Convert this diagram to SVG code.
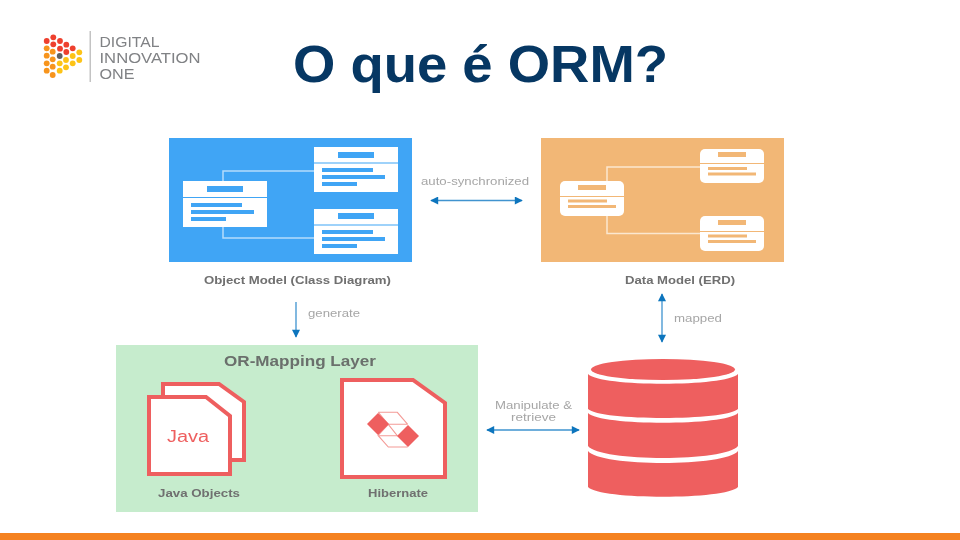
<svg xmlns="http://www.w3.org/2000/svg" width="960" height="540" viewBox="0 0 960 540">
<defs>
<filter id="soft" x="-5%" y="-5%" width="110%" height="110%"><feGaussianBlur stdDeviation="0.55"/></filter>
<marker id="ah" viewBox="0 0 10 10" refX="9" refY="5" markerWidth="9" markerHeight="8" markerUnits="userSpaceOnUse" orient="auto-start-reverse"><path d="M0 0L10 5L0 10z" fill="#0b74bd"/></marker>
</defs>
<style>
text{font-family:"Liberation Sans",Arial,sans-serif}
.lab{font-size:10.800px;font-weight:700;fill:#6f6f6f;text-anchor:middle}
.edge{font-size:10.400px;fill:#a6a6a6;text-anchor:middle}
.cls{fill:#fff}.bb{fill:#3fa5f5}.ob{fill:#f2b776}
.ln{fill:none;stroke-width:1.5}
.arr{stroke:#3f93cf;stroke-width:1.3;fill:none;marker-start:url(#ah);marker-end:url(#ah)}
.doc{fill:#fff;stroke:#ee5f5f;stroke-width:4}
.logo{font-size:13.900px;fill:#808285}
</style>
<rect width="960" height="540" fill="#fff"/>
<g id="logo" filter="url(#soft)">
<g fill="#ee3f2e"><circle cx="53.3" cy="37.3" r="2.9"/><circle cx="46.7" cy="41" r="2.9"/><circle cx="53.3" cy="44.3" r="2.9"/><circle cx="60" cy="41" r="2.9"/><circle cx="66.3" cy="44.7" r="2.9"/><circle cx="72.7" cy="48.3" r="2.9"/><circle cx="60" cy="48.7" r="2.9"/><circle cx="66.3" cy="52" r="2.9"/></g>
<g fill="#f7941d"><circle cx="46.7" cy="48.3" r="2.9"/><circle cx="46.7" cy="55.7" r="2.9"/><circle cx="46.7" cy="63.3" r="2.9"/><circle cx="46.7" cy="70.7" r="2.9"/><circle cx="52.7" cy="51.7" r="2.9"/><circle cx="52.7" cy="59.3" r="2.9"/><circle cx="52.7" cy="66.7" r="2.9"/><circle cx="52.7" cy="75" r="2.9"/></g>
<circle cx="59.7" cy="56" r="2.9" fill="#5f6062"/>
<g fill="#fdc316"><circle cx="79.3" cy="52.3" r="2.9"/><circle cx="79.3" cy="60" r="2.9"/><circle cx="72.7" cy="56" r="2.9"/><circle cx="72.7" cy="63.3" r="2.9"/><circle cx="66" cy="60" r="2.9"/><circle cx="66" cy="67.3" r="2.9"/><circle cx="59.7" cy="63.3" r="2.9"/><circle cx="59.7" cy="70.7" r="2.9"/></g>
<rect x="89.6" y="31" width="1.2" height="51" fill="#b5b5b5"/>
<text class="logo" x="99.500" y="47" textLength="60" lengthAdjust="spacingAndGlyphs">DIGITAL</text>
<text class="logo" x="99.500" y="63" textLength="101" lengthAdjust="spacingAndGlyphs">INNOVATION</text>
<text class="logo" x="99.500" y="79" textLength="35" lengthAdjust="spacingAndGlyphs">ONE</text>
</g>
<text id="title" x="293" y="82" textLength="375" lengthAdjust="spacingAndGlyphs" style="font-size:52px;font-weight:700" fill="#063763">O que é ORM?</text>
<g id="diagram" filter="url(#soft)">
<g id="object-model">
<rect x="169" y="138" width="243" height="124" class="bb"/>
<path d="M223 181V171H314M223 227V238H314" class="ln" stroke="#b5dbfb"/>
<g id="class-a"><rect x="183" y="181" width="84" height="46" class="cls"/><rect x="183" y="197" width="84" height="1" class="bb"/><rect x="207" y="186" width="36" height="6" class="bb"/><rect x="191" y="203" width="51" height="4" class="bb"/><rect x="191" y="210" width="63" height="4" class="bb"/><rect x="191" y="217" width="35" height="4" class="bb"/></g>
<g id="class-b"><rect x="314" y="147" width="84" height="45" class="cls"/><rect x="314" y="162.500" width="84" height="1" class="bb"/><rect x="338" y="152" width="36" height="6" class="bb"/><rect x="322" y="168" width="51" height="4" class="bb"/><rect x="322" y="175" width="63" height="4" class="bb"/><rect x="322" y="182" width="35" height="4" class="bb"/></g>
<g id="class-c"><rect x="314" y="209" width="84" height="45" class="cls"/><rect x="314" y="224.500" width="84" height="1" class="bb"/><rect x="338" y="213" width="36" height="6" class="bb"/><rect x="322" y="230" width="51" height="4" class="bb"/><rect x="322" y="237" width="63" height="4" class="bb"/><rect x="322" y="244" width="35" height="4" class="bb"/></g>
<text class="lab" x="297.500" y="283.500" textLength="187" lengthAdjust="spacingAndGlyphs">Object Model (Class Diagram)</text>
</g>
<g id="data-model">
<rect x="541" y="138" width="243" height="124" class="ob"/>
<path d="M607 181V167H700M607 216V233.500H700" class="ln" stroke="#fbe7d0"/>
<g id="table-a"><rect x="560" y="181" width="64" height="35" rx="5" class="cls"/><rect x="560" y="196" width="64" height="1" class="ob"/><rect x="578" y="185" width="28" height="5" class="ob"/><rect x="568" y="199.500" width="39" height="3" class="ob"/><rect x="568" y="205" width="48" height="3" class="ob"/></g>
<g id="table-b"><rect x="700" y="149" width="64" height="34" rx="5" class="cls"/><rect x="700" y="163" width="64" height="1" class="ob"/><rect x="718" y="152" width="28" height="5" class="ob"/><rect x="708" y="167" width="39" height="3" class="ob"/><rect x="708" y="172.500" width="48" height="3" class="ob"/></g>
<g id="table-c"><rect x="700" y="216" width="64" height="35" rx="5" class="cls"/><rect x="700" y="231" width="64" height="1" class="ob"/><rect x="718" y="220" width="28" height="5" class="ob"/><rect x="708" y="234.500" width="39" height="3" class="ob"/><rect x="708" y="240" width="48" height="3" class="ob"/></g>
<text class="lab" x="680" y="283.500" textLength="110" lengthAdjust="spacingAndGlyphs">Data Model (ERD)</text>
</g>
<g id="or-mapping">
<rect x="116" y="345" width="362" height="167" fill="#c6eccd"/>
<text x="300" y="366" text-anchor="middle" textLength="152" lengthAdjust="spacingAndGlyphs" style="font-size:14px;font-weight:700" fill="#6b6f6c">OR-Mapping Layer</text>
<g id="java-objects">
<path d="M163 384H219L244 402V460H163Z" class="doc"/>
<path d="M149 397H206L230 416V474H149Z" class="doc"/>
<text x="188" y="441.500" text-anchor="middle" style="font-size:16px" textLength="42" lengthAdjust="spacingAndGlyphs" fill="#ee5f5f">Java</text>
<text class="lab" x="199" y="497" textLength="82" lengthAdjust="spacingAndGlyphs">Java Objects</text>
</g>
<g id="hibernate">
<path d="M342 380H413L445 403V477H342Z" class="doc"/>
<path d="M378.300 412.300H397.300L407.700 424.300M388.300 424.300L397.300 435.700H378.300L388.300 447H407.700M378.300 412.300L388.300 424.300H407.700M378.300 435L388.300 424.300" fill="none" stroke="#f49a96" stroke-width="1.100"/>
<path d="M378 413L389 424L378 435L367 424Z" fill="#ee5f5f"/>
<path d="M408 425L419 436L408 447L397 436Z" fill="#ee5f5f"/>
<text class="lab" x="398" y="497" textLength="60" lengthAdjust="spacingAndGlyphs">Hibernate</text>
</g>
</g>
<g id="database" fill="#ee5f5f">
<ellipse cx="663" cy="369.500" rx="72" ry="10.500"/>
<path d="M588 374C600 387 726 387 738 374V409C726 421 600 421 588 409Z"/>
<path d="M588 413C600 426 726 426 738 413V446C726 462 600 462 588 446Z"/>
<path d="M588 451C600 467 726 467 738 451V487C726 500 600 500 588 487Z"/>
</g>
<g id="connectors">
<path class="arr" d="M431 200.500H522"/>
<path class="arr" d="M296 302V337" style="marker-start:none"/>
<path class="arr" d="M662 294V342"/>
<path class="arr" d="M487 430H579"/>
<text class="edge" x="475" y="185" textLength="108" lengthAdjust="spacingAndGlyphs">auto-synchronized</text>
<text class="edge" x="334" y="317" textLength="52" lengthAdjust="spacingAndGlyphs">generate</text>
<text class="edge" x="698" y="322" textLength="48" lengthAdjust="spacingAndGlyphs">mapped</text>
<text class="edge" x="533.500" y="409" textLength="77" lengthAdjust="spacingAndGlyphs">Manipulate &amp;</text>
<text class="edge" x="533.500" y="421" textLength="45" lengthAdjust="spacingAndGlyphs">retrieve</text>
</g>
</g>
<rect id="footer" x="0" y="533" width="960" height="7" fill="#f58220"/>
</svg>
